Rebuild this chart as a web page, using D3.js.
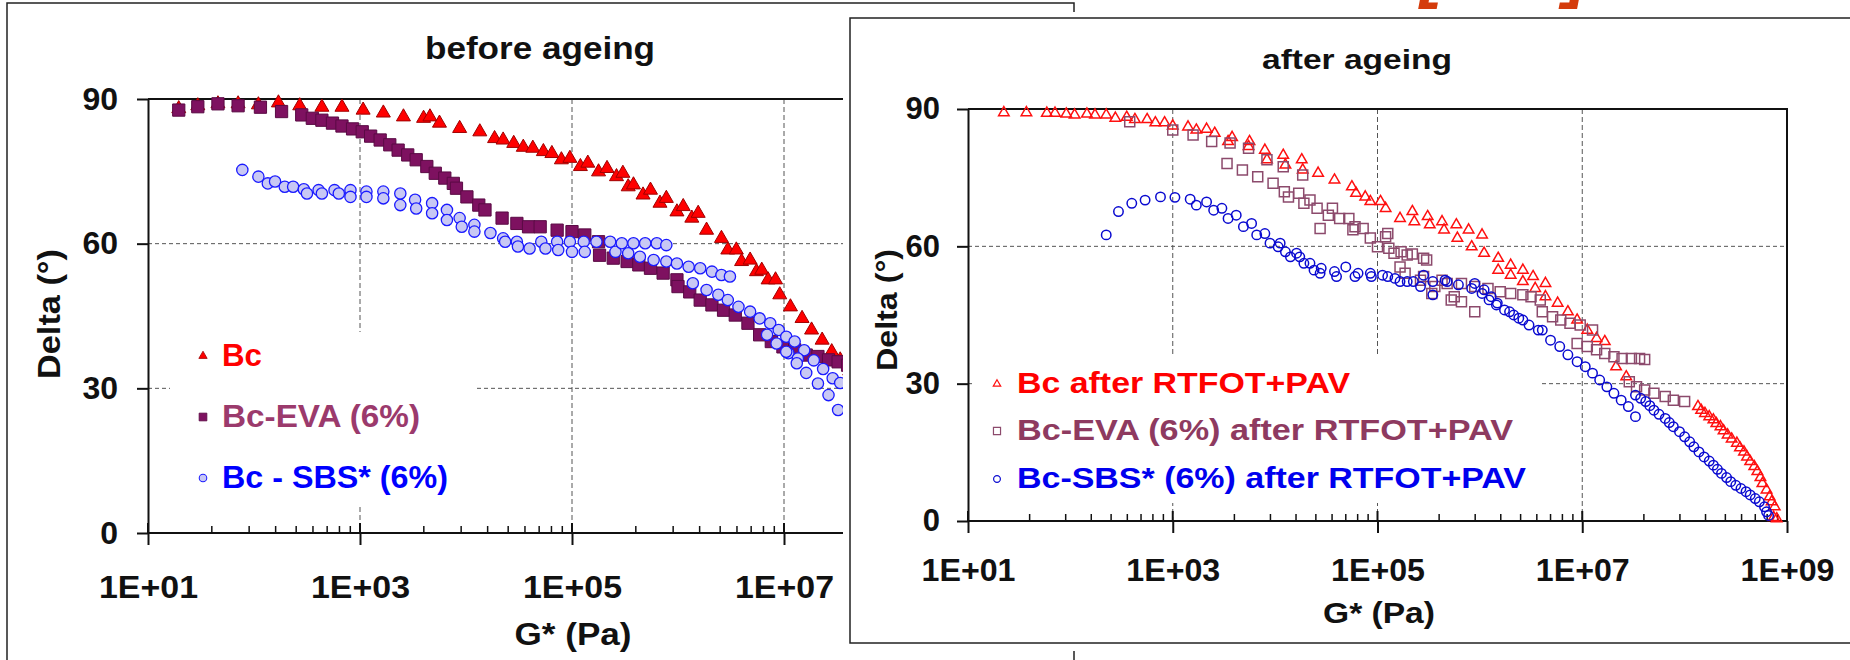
<!DOCTYPE html>
<html>
<head>
<meta charset="utf-8">
<script src="https://cdn.jsdelivr.net/npm/d3@7"></script>
<style>
  html, body { margin: 0; padding: 0; background: #fff; }
  svg { display: block; font-family: "Liberation Sans", Arial, sans-serif; font-weight: bold; }
</style>
</head>
<body>
<svg id="chart" width="1850" height="660"></svg>
<script>
// ---- axis values -------------------------------------------------------
const gTicks = [1e1, 1e3, 1e5, 1e7, 1e9];
const gTickLabels = ["1E+01", "1E+03", "1E+05", "1E+07", "1E+09"];
const deltaTicks = [0, 30, 60, 90];
const deltaTickLabels = ["0", "30", "60", "90"];

const legendBefore = ["Bc", "Bc-EVA (6%)", "Bc - SBS* (6%)"];
const legendAfter = ["Bc after RTFOT+PAV", "Bc-EVA (6%) after RTFOT+PAV", "Bc-SBS* (6%) after RTFOT+PAV"];

// ---- measurements: [G* (Pa), phase angle delta (°)] ---------------------
const bcBefore = [
  [19.5, 88.0], [29.5, 88.6], [45.7, 89.0], [70.8, 89.0],
  [110, 88.8], [170, 89.2], [270, 88.6], [437, 88.3], [676, 88.3],
  [1070, 87.7], [1660, 87.1], [2570, 86.3], [3980, 86.0], [4570, 86.3], [5620, 85.0], [8710, 83.9],
  [1.35e4, 83.2], [1.86e4, 81.8], [2.24e4, 81.5], [2.82e4, 80.8], [3.47e4, 80.0], [4.27e4, 79.8],
  [5.37e4, 79.1], [6.46e4, 78.7], [7.94e4, 77.4], [9.55e4, 77.7],
  [1.20e5, 76.0], [1.41e5, 76.7], [1.78e5, 74.9], [2.14e5, 75.6], [2.63e5, 73.9], [3.02e5, 74.6],
  [3.39e5, 71.8], [3.80e5, 72.2], [4.68e5, 70.1], [5.50e5, 71.1], [6.76e5, 68.4], [7.76e5, 69.4], [9.77e5, 66.6],
  [1.12e6, 67.7], [1.35e6, 65.3], [1.55e6, 66.3], [1.86e6, 62.8], [2.57e6, 61.1], [2.95e6, 58.7],
  [3.55e6, 58.7], [3.98e6, 56.3], [4.79e6, 56.6], [5.50e6, 54.2], [6.17e6, 54.5], [7.08e6, 52.5],
  [8.32e6, 52.5], [9.12e6, 49.4],
  [1.15e7, 46.9], [1.48e7, 44.5], [1.82e7, 42.1], [2.29e7, 40.0], [2.82e7, 37.6], [3.39e7, 35.9], [4.17e7, 33.6]
];

const evaBefore = [
  [19.5, 87.7], [29.5, 88.4], [45.7, 89.0], [70.8, 88.6], [115, 88.3], [182, 87.4], [282, 86.7],
  [355, 86.0], [437, 85.6], [550, 85.0], [676, 84.4], [851, 83.8],
  [1050, 83.2], [1260, 82.3], [1550, 81.5], [1910, 80.5], [2290, 79.4], [2820, 78.4], [3390, 77.4],
  [4270, 76.0], [5130, 74.6], [6310, 73.6], [7590, 72.5], [8130, 71.5],
  [1.02e4, 69.7], [1.32e4, 68.0], [1.51e4, 67.0], [2.19e4, 65.3], [3.02e4, 64.2], [3.89e4, 63.5],
  [5.01e4, 63.5], [7.24e4, 62.8],
  [1.00e5, 62.5], [1.32e5, 61.8], [1.78e5, 60.4], [1.82e5, 57.6], [2.45e5, 57.0], [3.31e5, 56.3],
  [4.27e5, 55.6], [5.50e5, 54.9], [7.24e5, 53.9], [9.77e5, 52.5],
  [1.00e6, 51.1], [1.29e6, 50.0], [1.62e6, 48.3], [2.09e6, 47.3], [2.69e6, 46.2], [3.47e6, 45.2],
  [4.57e6, 43.5], [5.89e6, 41.1], [7.59e6, 39.7], [9.77e6, 38.6],
  [1.26e7, 38.0], [1.62e7, 36.9], [2.09e7, 36.6], [2.63e7, 35.9], [3.24e7, 35.5], [3.98e7, 34.8]
];

const sbsBefore = [
  [77.6, 75.3], [110, 73.9], [135, 72.5], [158, 72.9], [195, 71.8], [234, 71.8], [295, 71.3],
  [316, 70.4], [407, 71.1], [437, 70.4], [575, 71.1], [631, 70.4], [813, 71.1], [813, 69.7],
  [1150, 70.8], [1150, 69.7], [1660, 70.8], [1660, 69.4], [2400, 70.4], [2400, 68.0],
  [3310, 69.1], [3390, 67.3], [4790, 68.4], [4790, 66.3], [6610, 67.0], [6610, 64.9],
  [8710, 65.3], [9120, 63.5],
  [1.20e4, 63.9], [1.20e4, 62.5], [1.70e4, 62.2], [2.24e4, 61.1], [2.34e4, 60.4], [3.02e4, 60.4],
  [3.09e4, 59.4], [3.98e4, 59.0], [5.13e4, 60.4], [5.62e4, 59.0], [7.24e4, 60.4], [7.41e4, 58.7],
  [9.55e4, 60.4],
  [1.00e5, 58.3], [1.29e5, 60.4], [1.32e5, 58.3], [1.70e5, 60.4], [2.29e5, 60.4], [2.57e5, 58.3],
  [2.95e5, 60.1], [3.39e5, 58.0], [3.80e5, 60.1], [4.37e5, 57.3], [4.90e5, 60.1], [5.89e5, 56.6],
  [6.31e5, 60.1], [7.76e5, 59.7], [7.76e5, 56.3], [9.77e5, 55.9],
  [1.26e6, 55.2], [1.62e6, 54.9], [2.09e6, 54.2], [2.57e6, 53.5], [3.09e6, 53.2],
  [1.38e6, 51.8], [1.86e6, 50.4], [2.40e6, 49.4], [2.95e6, 48.3], [3.72e6, 46.9], [4.79e6, 45.9],
  [5.89e6, 44.5], [7.41e6, 43.5], [8.91e6, 42.1], [1.05e7, 40.7], [1.26e7, 39.7],
  [1.55e7, 37.9], [1.91e7, 35.8], [2.34e7, 34.0],
  [1.10e7, 37.3], [1.35e7, 36.2], [6.92e6, 41.1], [8.51e6, 39.3], [1.05e7, 37.6], [1.32e7, 35.2],
  [1.62e7, 33.2], [2.09e7, 31.0], [2.63e7, 28.6], [3.24e7, 25.5], [2.88e7, 32.1], [3.39e7, 31.1]
];

const bcAfter = [
  [22.4, 89.2], [37.2, 89.2], [58.9, 89.1], [70.8, 89.1], [91.2, 88.9], [110, 88.7], [145, 88.9],
  [174, 88.7], [224, 88.7], [275, 88.0], [355, 88.2], [427, 87.7], [562, 87.7], [676, 87.0], [832, 87.0],
  [1000, 86.3], [1410, 86.1], [1700, 85.4], [2140, 85.6], [2570, 84.7], [3470, 82.9], [3800, 83.8],
  [5500, 81.8], [5620, 82.9], [7940, 81.0], [8320, 78.9],
  [1.20e4, 79.9], [1.26e4, 77.8], [1.82e4, 78.9], [1.86e4, 76.7], [2.63e4, 76.0], [3.80e4, 74.5],
  [5.62e4, 73.0], [6.17e4, 71.6], [7.59e4, 70.8], [8.51e4, 69.8],
  [1.07e5, 69.8], [1.20e5, 68.3], [1.66e5, 66.1], [2.19e5, 67.6], [2.29e5, 65.4], [3.09e5, 66.5],
  [3.24e5, 64.7], [4.27e5, 65.4], [4.47e5, 63.6], [5.89e5, 64.7], [6.03e5, 61.8], [7.76e5, 63.6],
  [8.32e5, 59.9],
  [1.05e6, 62.5], [1.10e6, 58.5], [1.51e6, 57.4], [1.51e6, 54.8], [2.00e6, 55.9], [2.00e6, 53.7],
  [2.63e6, 54.8], [2.63e6, 52.3], [3.31e6, 53.4], [3.47e6, 50.8], [4.37e6, 51.9], [4.37e6, 49.0],
  [5.75e6, 47.6], [7.24e6, 45.7], [8.91e6, 43.9],
  [1.12e7, 41.7], [1.38e7, 39.9], [1.66e7, 39.2], [2.14e7, 33.7], [2.69e7, 31.5],
  [1.35e8, 25.0], [1.45e8, 24.2], [1.58e8, 23.5], [1.74e8, 22.8], [1.91e8, 22.1], [2.04e8, 21.3],
  [2.24e8, 20.6], [2.40e8, 19.7], [2.63e8, 18.8], [2.88e8, 17.9], [3.24e8, 17.0], [3.47e8, 16.0],
  [3.80e8, 15.1], [4.07e8, 14.0], [4.37e8, 13.0], [4.79e8, 11.9], [5.13e8, 10.8], [5.50e8, 9.5],
  [5.75e8, 8.2], [6.31e8, 6.8], [6.76e8, 5.3], [7.08e8, 4.2], [7.59e8, 3.1], [7.41e8, 0.8], [7.94e8, 0.5]
];

const evaAfter = [
  [380, 87.2], [1000, 85.4], [1580, 84.3], [2400, 82.9], [3630, 82.6], [5500, 81.4], [8320, 78.9],
  [1.20e4, 77.4], [1.86e4, 75.6],
  [3390, 78.1], [4790, 76.7], [6760, 75.2], [9550, 73.8],
  [1.23e4, 71.9], [1.35e4, 70.8], [1.70e4, 71.6], [1.91e4, 69.4], [2.19e4, 70.1], [2.57e4, 68.3],
  [2.75e4, 63.9], [3.31e4, 66.8], [3.63e4, 68.3], [4.27e4, 66.1], [5.25e4, 66.1], [5.75e4, 63.6],
  [6.03e4, 64.3], [7.24e4, 63.9], [8.51e4, 61.8],
  [1.00e5, 59.9], [1.20e5, 62.1], [1.26e5, 62.8], [1.29e5, 59.6], [1.45e5, 58.5], [1.70e5, 58.8],
  [1.95e5, 58.1], [2.19e5, 58.3], [2.82e5, 57.4], [3.02e5, 57.0],
  [1.66e5, 55.5], [1.86e5, 54.1], [2.63e5, 52.6], [2.82e5, 53.4], [3.39e5, 49.7], [3.63e5, 51.2],
  [4.27e5, 52.6], [4.79e5, 51.9], [5.25e5, 48.3], [5.62e5, 49.0], [6.61e5, 47.9], [8.91e5, 45.7],
  [6.61e5, 51.9], [8.91e5, 51.2],
  [1.20e6, 50.8], [1.58e6, 50.1], [2.00e6, 49.7], [2.63e6, 49.4], [3.16e6, 49.0], [3.89e6, 48.3],
  [4.07e6, 45.7], [5.13e6, 44.6], [6.17e6, 43.9], [7.59e6, 43.2], [9.55e6, 42.8],
  [1.26e7, 41.7], [8.91e6, 38.8], [1.12e7, 38.1], [1.38e7, 37.4], [1.66e7, 36.6], [2.04e7, 35.9],
  [2.45e7, 35.5], [3.02e7, 35.5], [3.63e7, 35.5], [4.07e7, 35.3],
  [2.88e7, 30.4], [3.39e7, 29.3], [4.07e7, 28.6], [5.01e7, 27.9], [6.46e7, 27.2], [7.76e7, 26.4],
  [1.00e8, 26.1]
];

const sbsAfter = [
  [224, 62.5], [295, 67.6], [398, 69.4], [537, 70.1], [759, 70.8],
  [1050, 70.7], [1480, 70.3], [1700, 69.0], [2140, 69.7], [2510, 67.9], [3020, 68.3], [3470, 66.1],
  [4170, 66.8], [4900, 64.3], [5890, 65.0], [6610, 62.5], [7940, 62.8], [8910, 60.7],
  [1.07e4, 59.9], [1.12e4, 60.7], [1.26e4, 58.8], [1.41e4, 57.7], [1.62e4, 58.5], [1.91e4, 56.3],
  [1.74e4, 57.7], [2.19e4, 56.3], [2.40e4, 54.8], [2.82e4, 55.2], [2.75e4, 54.1], [3.80e4, 54.5],
  [3.98e4, 53.4], [4.90e4, 55.5], [6.03e4, 53.4], [6.46e4, 54.1], [8.51e4, 54.1], [8.71e4, 53.4],
  [1.12e5, 53.7], [1.26e5, 53.4], [1.48e5, 53.0], [1.66e5, 52.3], [1.95e5, 52.3], [2.24e5, 52.3],
  [2.63e5, 51.2], [2.82e5, 53.7], [3.47e5, 49.4], [3.47e5, 52.3], [4.57e5, 52.6], [4.79e5, 52.3],
  [6.17e5, 51.6], [8.32e5, 50.8], [8.91e5, 51.9],
  [1.05e6, 49.7], [1.10e6, 50.5], [1.23e6, 48.3], [1.29e6, 49.0], [1.45e6, 47.2], [1.48e6, 47.6],
  [1.74e6, 46.1], [1.95e6, 45.7], [2.14e6, 45.0], [2.40e6, 44.3], [2.63e6, 43.9], [3.02e6, 42.8],
  [3.72e6, 41.7], [4.07e6, 41.7], [4.90e6, 39.5], [6.03e6, 38.1], [7.24e6, 36.3], [8.91e6, 34.8],
  [1.07e7, 33.7], [1.26e7, 32.3], [1.48e7, 30.8], [1.74e7, 29.3], [2.04e7, 27.9], [2.40e7, 26.4],
  [2.82e7, 25.0], [3.31e7, 22.8],
  [3.31e7, 27.5], [3.72e7, 26.8], [4.17e7, 26.1], [4.57e7, 25.2], [5.01e7, 24.2], [5.62e7, 23.3],
  [6.46e7, 22.4], [7.08e7, 21.5], [7.76e7, 20.6], [8.91e7, 19.5], [1.00e8, 18.4], [1.12e8, 17.3],
  [1.23e8, 16.2], [1.38e8, 15.1], [1.55e8, 14.0], [1.74e8, 13.1], [1.91e8, 12.2], [2.09e8, 11.3],
  [2.29e8, 10.4], [2.57e8, 9.5], [2.82e8, 8.6], [3.16e8, 7.8], [3.55e8, 7.1], [3.98e8, 6.4],
  [4.37e8, 5.7], [4.90e8, 4.9], [5.37e8, 4.2], [6.03e8, 3.1], [6.31e8, 2.0], [6.61e8, 1.2]
];

// ---- drawing -----------------------------------------------------------
const svg = d3.select("#chart");
const INK = "#111";

// minor ticks: Excel-style log axis with a major unit of two decades
function minorTicks() {
  const out = [];
  for (let i = 0; i < gTicks.length - 1; i++) {
    for (let k = 2; k <= 9; k++) out.push(gTicks[i] * k * k);
  }
  return out;
}

function stretchedText(sel, str, length) {
  return sel.text(str).attr("textLength", length).attr("lengthAdjust", "spacingAndGlyphs");
}

function drawPanel(p) {
  const x = d3.scaleLog().domain([gTicks[0], gTicks[gTicks.length - 1]]).range(p.xRange);
  const y = d3.scaleLinear().domain([0, 90]).range(p.yRange);
  const [x0, x1] = p.xRange;
  const g = svg.append("g");

  // dashed gridlines
  g.append("g").selectAll("line")
    .data(deltaTicks.filter(d => d > 0 && d < 90)).join("line")
    .attr("x1", x0).attr("x2", x1).attr("y1", d => y(d)).attr("y2", d => y(d))
    .attr("stroke", "#555").attr("stroke-width", 1).attr("stroke-dasharray", "4,3");
  g.append("g").selectAll("line")
    .data(gTicks.slice(1, -1)).join("line")
    .attr("x1", d => x(d)).attr("x2", d => x(d)).attr("y1", y(90)).attr("y2", y(0))
    .attr("stroke", "#555").attr("stroke-width", 1).attr("stroke-dasharray", "5,3");

  // plot area border (top and right)
  g.append("path")
    .attr("d", `M${x0},${y(90)}H${x1}V${y(0)}`)
    .attr("fill", "none").attr("stroke", INK).attr("stroke-width", 2);

  // x axis (labels only where the panel is visible)
  const shownTicks = gTicks.filter(d => x(d) <= p.visibleTo);
  const xAxis = d3.axisBottom(x).tickValues(shownTicks)
    .tickFormat(d => gTickLabels[gTicks.indexOf(d)]).tickSize(12).tickSizeOuter(0).tickPadding(p.xPad);
  const gx = g.append("g").attr("transform", `translate(0,${y(0)})`).call(xAxis);
  gx.select(".domain").attr("d", `M${x0},0H${x1}`).attr("stroke", INK).attr("stroke-width", 2);
  gx.selectAll(".tick line").attr("stroke", INK).attr("stroke-width", 2);
  gx.selectAll(".tick text").attr("fill", INK).attr("font-size", p.tickFont)
    .attr("font-family", "Liberation Sans, Arial, sans-serif").attr("font-weight", "bold")
    .attr("textLength", p.xLabelLen).attr("lengthAdjust", "spacingAndGlyphs");
  // inward parts of the ticks
  g.append("g").selectAll("line").data(gTicks).join("line")
    .attr("x1", d => x(d)).attr("x2", d => x(d)).attr("y1", y(0)).attr("y2", y(0) - 10)
    .attr("stroke", INK).attr("stroke-width", 2);
  g.append("g").selectAll("line").data(minorTicks()).join("line")
    .attr("x1", d => x(d)).attr("x2", d => x(d)).attr("y1", y(0)).attr("y2", y(0) - 7)
    .attr("stroke", INK).attr("stroke-width", 1.5);

  // y axis
  const yAxis = d3.axisLeft(y).tickValues(deltaTicks)
    .tickFormat((d, i) => deltaTickLabels[i]).tickSize(11).tickSizeOuter(0).tickPadding(p.yPad);
  const gy = g.append("g").attr("transform", `translate(${x0},0)`).call(yAxis);
  gy.select(".domain").attr("stroke", INK).attr("stroke-width", 2);
  gy.selectAll(".tick line").attr("stroke", INK).attr("stroke-width", 2);
  gy.selectAll(".tick text").attr("fill", INK).attr("font-size", p.tickFont)
    .attr("font-family", "Liberation Sans, Arial, sans-serif").attr("font-weight", "bold");

  // series markers
  p.series.forEach(s => {
    const sym = d3.symbol().type(s.type).size(s.size);
    g.append("g").selectAll("path").data(s.data).join("path")
      .attr("transform", d => `translate(${x(d[0])},${y(d[1])})`)
      .attr("d", sym)
      .attr("fill", s.fill).attr("stroke", s.stroke).attr("stroke-width", s.sw);
  });

  // legend
  const lg = g.append("g");
  lg.append("rect").attr("x", p.legend.box[0]).attr("y", p.legend.box[1])
    .attr("width", p.legend.box[2]).attr("height", p.legend.box[3]).attr("fill", "#fff");
  p.series.forEach((s, i) => {
    const yy = p.legend.y[i];
    lg.append("path")
      .attr("transform", `translate(${p.legend.mx},${yy - p.legend.markerLift})`)
      .attr("d", d3.symbol().type(s.type).size(s.legendSize)())
      .attr("fill", s.fill).attr("stroke", s.stroke).attr("stroke-width", s.sw * 0.8);
    stretchedText(lg.append("text").attr("x", p.legend.tx).attr("y", yy)
      .attr("font-size", p.legend.font).attr("fill", s.textColor), p.legend.labels[i], p.legend.len[i]);
  });

  // titles
  stretchedText(g.append("text").attr("x", p.title.x).attr("y", p.title.y)
    .attr("font-size", p.title.font).attr("fill", INK), p.title.text, p.title.len);
  stretchedText(g.append("text").attr("x", p.xTitle.x).attr("y", p.xTitle.y)
    .attr("text-anchor", "middle").attr("font-size", p.xTitle.font).attr("fill", INK),
    "G* (Pa)", p.xTitle.len);
  stretchedText(g.append("text")
    .attr("transform", `translate(${p.yTitle.x},${p.yTitle.y}) rotate(-90)`)
    .attr("text-anchor", "middle").attr("font-size", p.yTitle.font).attr("fill", INK),
    "Delta (°)", p.yTitle.len);
}

// outer frame of the "before ageing" figure
svg.append("rect").attr("x", 7).attr("y", 3).attr("width", 1067).attr("height", 720)
  .attr("fill", "#fff").attr("stroke", "#222").attr("stroke-width", 1.5);

drawPanel({
  xRange: [148, 996], yRange: [533, 99], visibleTo: 843, xPad: 30, yPad: 19, tickFont: 32, xLabelLen: 99,
  series: [
    { data: bcBefore, type: d3.symbolTriangle, size: 85, legendSize: 30, fill: "#ff0000", stroke: "#a00000", sw: 1, textColor: "#ff0000" },
    { data: evaBefore, type: d3.symbolSquare, size: 150, legendSize: 60, fill: "#7e1160", stroke: "#5a0a44", sw: 1, textColor: "#9b3a6c" },
    { data: sbsBefore, type: d3.symbolCircle, size: 100, legendSize: 45, fill: "#c8c8f4", stroke: "#1a1aff", sw: 1.3, textColor: "#0000ff" }
  ],
  legend: {
    box: [170, 332, 305, 173], mx: 203, tx: 222, y: [366, 427, 488], markerLift: 10,
    font: 31, labels: legendBefore, len: [40, 198, 226]
  },
  title: { text: "before ageing", x: 425, y: 59, font: 31, len: 230 },
  xTitle: { x: 573, y: 645, font: 31, len: 117 },
  yTitle: { x: 60, y: 314, font: 31, len: 130 }
});

// "after ageing" figure laid over the right-hand part
svg.append("rect").attr("x", 843).attr("y", 12).attr("width", 1010).attr("height", 639).attr("fill", "#fff");
svg.append("rect").attr("x", 850).attr("y", 18).attr("width", 1010).attr("height", 625)
  .attr("fill", "#fff").attr("stroke", "#222").attr("stroke-width", 1.5);

drawPanel({
  xRange: [968, 1787], yRange: [521, 109], visibleTo: 1850, xPad: 26, yPad: 17, tickFont: 31, xLabelLen: 94,
  series: [
    { data: bcAfter, type: d3.symbolTriangle, size: 48, legendSize: 24, fill: "none", stroke: "#ff1010", sw: 1.5, textColor: "#ff0000" },
    { data: evaAfter, type: d3.symbolSquare, size: 100, legendSize: 50, fill: "none", stroke: "#8c4a6c", sw: 1.5, textColor: "#8e3a60" },
    { data: sbsAfter, type: d3.symbolCircle, size: 70, legendSize: 36, fill: "none", stroke: "#0a0ad0", sw: 1.5, textColor: "#0000ee" }
  ],
  legend: {
    box: [975, 355, 565, 148], mx: 997, tx: 1017, y: [393, 440, 488], markerLift: 9,
    font: 30, labels: legendAfter, len: [333, 496, 509]
  },
  title: { text: "after ageing", x: 1262, y: 69, font: 28, len: 190 },
  xTitle: { x: 1379, y: 623, font: 30, len: 112 },
  yTitle: { x: 897, y: 310, font: 30, len: 122 }
});

// heading above the figures, cut off at the top edge
svg.append("text").attr("x", 1420).attr("y", -6)
  .attr("font-size", 70).attr("font-style", "italic").attr("letter-spacing", 4).attr("fill", "#d43c0c")
  .text("[ ... ]");
</script>
</body>
</html>
